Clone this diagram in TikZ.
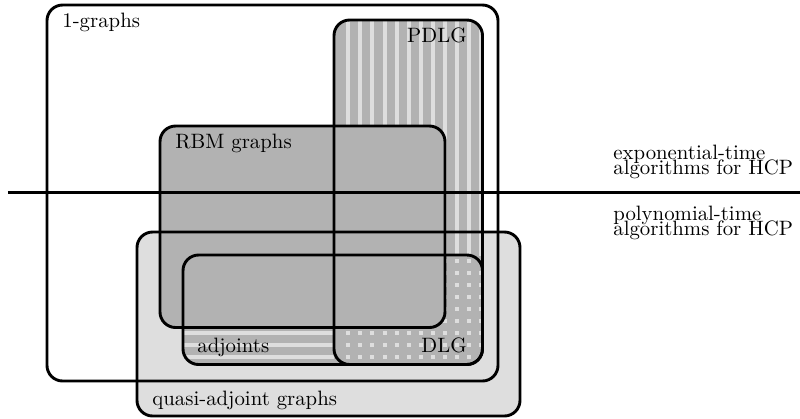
\documentclass[tikz,border=0pt]{standalone}
\usepackage{tikz}
\definecolor{midgray}{gray}{0.70}
\definecolor{lightgray}{gray}{0.87}
\tikzset{
  setline/.style={line width=1.4pt, rounded corners=7.5pt},
  label/.style={inner sep=0pt, font=\normalsize},
  stripe/.style={fill=lightgray},
}
\begin{document}
\begin{tikzpicture}[x=0.4808pt, y=-0.4808pt]
\useasboundingbox (0,0) rectangle (800,418);

% box corners
\coordinate (oneA) at (47,5);     \coordinate (oneB) at (498,381);
\coordinate (quaA) at (137,232);  \coordinate (quaB) at (520,416);
\coordinate (pdlA) at (334,20);   \coordinate (pdlB) at (482.5,364.5);
\coordinate (adjA) at (183,255);  \coordinate (adjB) at (482.5,364.5);
\coordinate (rbmA) at (160,126);  \coordinate (rbmB) at (445,327.5);

% quasi-adjoint graphs: light fill
\fill[lightgray, rounded corners=7.5pt] (quaA) rectangle (quaB);

% PDLG and adjoints: mid-gray fill
\fill[midgray, rounded corners=7.5pt] (pdlA) rectangle (pdlB);
\fill[midgray, rounded corners=7.5pt] (adjA) rectangle (adjB);

% PDLG above the adjoints: vertical stripes
\begin{scope}
  \clip[rounded corners=7.5pt] (pdlA) rectangle (pdlB);
  \clip (300,0) rectangle (500,255);
  \foreach \k in {0,...,11}
    \fill[stripe] ({346.3+12.07*\k},0) rectangle +(4,260);
\end{scope}

% adjoints left of PDLG: horizontal stripes
\begin{scope}
  \clip[rounded corners=7.5pt] (adjA) rectangle (adjB);
  \clip (150,240) rectangle (334,380);
  \foreach \k in {0,...,8}
    \fill[stripe] (150,{258.7+12*\k}) rectangle +(200,4);
\end{scope}

% DLG = PDLG and adjoints: dots
\begin{scope}
  \clip[rounded corners=7.5pt] (pdlA) rectangle (pdlB);
  \clip[rounded corners=7.5pt] (adjA) rectangle (adjB);
  \foreach \i in {0,...,11}
    \foreach \j in {0,...,8}
      \fill[stripe] ({346.3+12.07*\i},{258.7+12*\j}) rectangle +(4,4);
\end{scope}

% RBM graphs: opaque
\fill[midgray, rounded corners=7.5pt] (rbmA) rectangle (rbmB);

% outlines
\draw[setline] (oneA) rectangle (oneB);
\draw[setline] (quaA) rectangle (quaB);
\draw[setline] (pdlA) rectangle (pdlB);
\draw[setline] (adjA) rectangle (adjB);
\draw[setline] (rbmA) rectangle (rbmB);

% complexity border
\coordinate (hl) at (8,192.7);
\coordinate (hr) at (800,192.7);
\draw[line width=1.2pt] (hl) -- (hr);

% set labels
\node[label, anchor=base west] (lone) at (62,27) {1-graphs};
\node[label, anchor=base east] (lpdlg) at (467,42) {PDLG};
\node[label, anchor=base west] (lrbm) at (175,148) {RBM graphs};
\node[label, anchor=base west] (ladj) at (197,352) {adjoints};
\node[label, anchor=base east] (ldlg) at (467,352) {DLG};
\node[label, anchor=base west] (lqua) at (152,405) {quasi-adjoint graphs};

% region labels
\node[label, anchor=north west, align=left] (lexp) at (613,145)
  {exponential-time\\[-5.2pt]algorithms for HCP};
\node[label, anchor=north west, align=left] (lpoly) at (613,206)
  {polynomial-time\\[-5.2pt]algorithms for HCP};
\end{tikzpicture}
\end{document}
